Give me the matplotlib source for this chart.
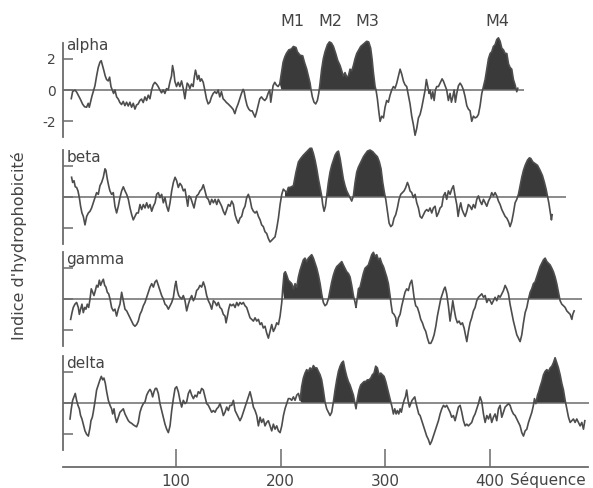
import matplotlib
matplotlib.use("Agg")
import matplotlib.pyplot as plt
import matplotlib.transforms as mtransforms
import numpy as np

# Hydrophobicity profiles of the four receptor subunits, (residue, index) pairs
alpha = [
    (0, -0.55), (1.3, -0.1), (3.5, 0.0), (5.1, -0.13), (6.7, -0.33), (8.9, -0.62), (10.8, -0.9), (12.7, -1.07),
    (14.6, -1.1), (16.2, -0.85), (17.2, -1.1), (18.5, -0.73), (19.7, -0.4), (21, -0.1), (22.6, 0.27), (24.2, 0.9),
    (25.8, 1.45), (27.4, 1.78), (28.6, 1.87), (29.9, 1.55), (31.2, 1.22), (32.4, 0.9), (33.7, 0.67), (35.3, 0.58),
    (36.6, 0.82), (37.9, 0.22), (39.1, 0.0), (40.4, -0.22), (41.7, 0.0), (43.3, -0.44), (44.9, -0.58), (46.4, -0.8),
    (48, -0.93), (49.6, -0.73), (51.2, -1.0), (52.8, -0.78), (54.4, -1.02), (56, -0.78), (57.6, -1.1), (59.2, -0.85),
    (60.8, -1.22), (62.3, -0.96), (63.9, -0.89), (65.5, -0.67), (67.1, -0.58), (68.7, -0.8), (70.3, -0.44),
    (71.9, -0.67), (73.5, -0.33), (75.1, -0.56), (76.7, 0.0), (78.2, 0.33), (79.8, 0.49), (81.4, 0.38), (83, 0.22),
    (84.6, 0.0), (86.2, -0.18), (87.8, 0.0), (89.4, -0.22), (91, 0.09), (92.6, 0.0), (94.1, 0.49), (95.7, 0.89),
    (96.7, 1.56), (98, 1.11), (98.9, 0.56), (100.5, 0.22), (102.1, 0.49), (103.7, 0.22), (105.3, 0.58), (106.9, 0.11),
    (108.5, -0.56), (109.4, -0.11), (110.7, 0.44), (112, 0.33), (113.2, 0.09), (114.8, 0.38), (116.4, 0.22),
    (117.4, 0.78), (118.6, 1.27), (119.6, 1.0), (120.5, 0.67), (121.8, 0.93), (123.1, 0.56), (124.4, 0.71),
    (126, 0.49), (127.5, 0.0), (129.1, -0.56), (130.7, -0.89), (132.3, -0.78), (133.9, -0.44), (135.5, -0.22),
    (137.1, -0.11), (138.7, -0.22), (140.3, 0.0), (141.8, -0.44), (143.4, -0.11), (145, -0.56), (146.6, -0.67),
    (148.2, -0.8), (149.8, -0.89), (151.4, -1.0), (153, -1.11), (154.6, -1.24), (156.2, -1.51), (157.7, -1.16),
    (159.3, -0.89), (160.9, -0.56), (162.5, -0.22), (164.1, 0.04), (165.1, -0.11), (166.3, -0.56), (167.9, -1.0),
    (169.5, -1.22), (171.1, -1.33), (172.7, -1.33), (174.3, -1.56), (175.5, -1.73), (176.8, -1.44), (178.4, -1.0),
    (180, -0.56), (181.6, -0.44), (183.2, -0.58), (184.8, -0.67), (186.4, -0.53), (187.9, -0.22), (189.5, 0.0),
    (190.5, -0.78), (191.4, -0.33), (192.7, 0.27), (194.3, 0.49), (195.9, 0.31), (197.5, 0.22), (199.1, 0.4),
    (200.7, 1.11), (202.3, 1.78), (203.9, 2.11), (205.4, 2.33), (207.7, 2.56), (210.2, 2.62), (212.1, 2.78),
    (214.6, 2.71), (215.9, 2.44), (218.5, 2.22), (221, 2.18), (222.6, 1.78), (224.8, 1.33), (226.4, 0.89),
    (228, 0.44), (229, 0.0), (230.2, -0.44), (231.8, -0.78), (233.4, -0.89), (235, -0.67), (236.3, -0.22),
    (237.6, 0.44), (239.1, 1.33), (240.7, 2.0), (242.3, 2.44), (244.6, 2.89), (246.5, 3.07), (248.4, 3.0),
    (250.3, 2.78), (252.5, 2.33), (254.4, 1.89), (256.7, 1.56), (258.3, 1.22), (259.8, 0.89), (261.4, 1.11),
    (263, 0.84), (264.6, 0.89), (266.2, 1.33), (267.8, 1.22), (269.4, 1.56), (271, 2.0), (272.6, 2.33),
    (274.5, 2.56), (276.4, 2.78), (279, 2.93), (282.1, 3.11), (284, 3.07), (285.9, 2.67), (287.2, 2.0),
    (288.5, 1.11), (290.1, 0.22), (291, 0.0), (292.3, -0.56), (293.6, -1.33), (294.9, -2.0), (296.5, -1.67),
    (298.1, -1.78), (299.6, -1.11), (301.2, -0.67), (302.8, -0.78), (304.4, -0.33), (306, 0.0), (307.6, 0.22),
    (309.2, 0.11), (310.8, 0.44), (312.4, 0.89), (314, 1.33), (315.6, 1.0), (317.2, 0.56), (318.7, 0.33),
    (320.3, 0.22), (321.9, -0.33), (323.5, -0.89), (325.1, -1.67), (326.7, -2.22), (328.3, -2.89), (329.9, -2.44),
    (331.5, -1.78), (333.1, -1.56), (334.7, -1.11), (336.3, -0.56), (337.9, 0.0), (339.1, 0.67), (340.4, 0.22),
    (341.7, -0.22), (342.6, 0.0), (343.9, -0.56), (345.2, -0.11), (346.5, -0.67), (347.7, 0.0), (349, 0.22),
    (350.6, 0.22), (352.2, 0.44), (354.1, 0.71), (355.4, 0.56), (357, 0.27), (358.5, 0.0), (360.1, -0.67),
    (361.7, -0.22), (363, -0.78), (364.3, -0.44), (365.6, 0.0), (366.8, -0.78), (368.1, -0.22), (369.7, 0.27),
    (371.3, 0.44), (372.9, 0.27), (374.5, 0.0), (376.1, -0.44), (377.7, -1.0), (379.2, -1.22), (380.8, -1.33),
    (382.4, -2.0), (384, -1.67), (385.6, -1.78), (387.2, -1.73), (388.8, -1.56), (390.4, -1.0), (392, -0.22),
    (393.6, 0.22), (395.2, 0.67), (396.8, 1.33), (398.4, 2.0), (400, 2.33), (401.5, 2.44), (403.1, 2.78),
    (404.7, 2.89), (406.3, 3.22), (407.9, 3.33), (409.5, 3.11), (411.1, 2.67), (412.7, 2.56), (414.3, 2.33),
    (415.9, 2.33), (417.5, 1.67), (419, 1.44), (420.6, 1.33), (422.2, 0.67), (423.8, 0.33), (425.4, -0.11),
    (426.4, 0.11),
]

beta = [
    (0.3, 1.26), (1.3, 0.93), (2.6, 1.04), (3.8, 0.65), (5.1, 0.61), (6.4, 0.39), (7.7, -0.04), (8.9, -0.59),
    (10.2, -1.02), (11.5, -1.24), (13.1, -1.78), (14.7, -1.24), (16.3, -1.02), (17.9, -0.91), (19.4, -0.7),
    (21, -0.37), (22.6, -0.04), (24.2, 0.28), (25.8, 0.17), (27.4, 0.72), (29, 0.93), (30.6, 1.26), (32.2, 1.8),
    (33.1, 1.7), (34.4, 1.15), (35.7, 0.72), (36.9, 0.39), (38.5, 0.17), (40.1, 0.28), (41.7, -0.59), (43.3, -1.02),
    (44.9, -0.59), (46.5, -0.04), (48.1, 0.39), (49.7, 0.65), (51.3, 0.39), (52.9, 0.17), (54.5, -0.15),
    (56.1, -0.7), (57.7, -1.13), (59.2, -1.46), (60.8, -1.24), (62.4, -1.02), (64, -1.02), (65.6, -0.48),
    (67.2, -0.8), (68.8, -0.48), (70.4, -0.7), (72, -0.37), (73.6, -0.7), (75.2, -0.48), (76.8, -0.91),
    (78.4, -0.59), (80, -0.37), (81.5, 0.17), (83.1, 0.28), (84.7, -0.04), (86.3, 0.17), (87.9, -0.37),
    (89.5, -0.04), (91.1, -0.59), (92.7, -0.91), (94.3, -0.37), (95.9, 0.39), (97.5, 0.93), (99.1, 1.26),
    (100.6, 1.04), (102.2, 0.61), (103.8, 0.87), (105.4, 0.72), (107, 0.39), (108.6, 0.5), (110.2, -0.15),
    (111.2, -0.59), (112.4, 0.07), (114, -0.04), (115.6, -0.37), (117.2, -0.7), (118.5, -0.26), (119.7, 0.07),
    (121.3, 0.17), (122.9, 0.39), (124.5, 0.5), (126.1, 0.78), (127.7, 0.39), (129.3, -0.04), (130.9, -0.15),
    (132.5, -0.48), (134.1, -0.15), (135.7, -0.37), (137.3, -0.15), (138.9, -0.48), (140.4, -0.15), (142, -0.37),
    (143.6, -0.59), (145.2, -0.91), (146.8, -1.13), (148.4, -0.8), (150, -0.48), (151.6, -0.59), (153.2, -0.26),
    (154.8, -0.48), (156.4, -1.13), (158, -1.46), (159.5, -1.67), (161.1, -1.35), (162.7, -1.24), (164.3, -0.8),
    (165.9, -0.59), (167.5, -0.04), (169.1, 0.17), (170.7, -0.15), (172.3, -0.7), (173.9, -0.91), (175.5, -1.02),
    (177.1, -0.91), (178.7, -1.24), (180.3, -1.46), (181.8, -1.78), (183.4, -1.89), (185, -2.22), (186.6, -2.33),
    (188.2, -2.65), (189.8, -2.87), (191.4, -2.76), (193, -2.65), (194.6, -2.54), (196.2, -2.0), (197.8, -1.35),
    (199.4, -0.48), (201, 0.17), (202.5, 0.5), (204.1, 0.39), (205.7, 0.28), (207.3, 0.61), (208.9, 0.61),
    (212.1, 0.72), (214.6, 1.59), (216.9, 2.24), (219.1, 2.46), (221.6, 2.67), (223.2, 2.78), (224.8, 2.89),
    (226.4, 3.0), (228, 3.11), (229.6, 3.11), (231.2, 2.78), (232.8, 2.35), (234.4, 1.8), (236, 1.15),
    (237.6, 0.61), (239.1, 0.07), (240.1, -0.48), (241.4, -0.91), (242.7, -0.59), (243.9, 0.07), (245.5, 0.93),
    (247.1, 1.59), (248.7, 2.02), (250.3, 2.35), (251.9, 2.67), (253.5, 2.85), (255.1, 2.93), (256.7, 2.46),
    (258.3, 1.8), (259.8, 1.15), (261.4, 0.72), (263, 0.39), (264.6, 0.17), (266.2, -0.04), (267.8, -0.26),
    (269.4, 0.07), (271, 0.93), (272.6, 1.59), (274.2, 1.91), (275.8, 2.13), (277.4, 2.35), (279, 2.57),
    (280.5, 2.72), (282.8, 2.93), (285.3, 3.0), (287.9, 2.89), (290.1, 2.72), (292.3, 2.57), (294.2, 2.24),
    (295.8, 1.8), (297.4, 0.93), (299, 0.28), (300.3, -0.15), (301.9, -0.91), (303.5, -1.67), (305.1, -1.89),
    (306.7, -1.78), (308.2, -1.35), (309.8, -1.13), (311.4, -0.7), (313, -0.15), (314.6, 0.17), (316.2, 0.28),
    (317.8, 0.39), (319.4, 0.61), (321, 0.93), (322.2, 0.72), (323.5, 0.39), (325.1, 0.28), (326.7, -0.04),
    (328.3, 0.17), (329.9, -0.37), (331.5, -0.7), (333.1, -1.24), (334.7, -1.35), (336.3, -1.13), (337.9, -0.91),
    (339.4, -0.8), (341, -0.91), (342.6, -0.7), (344.2, -1.02), (345.8, -0.7), (347.4, -0.59), (349, -1.24),
    (350.6, -1.02), (352.2, -0.7), (353.8, -0.59), (355.4, 0.07), (357, 0.28), (358.5, -0.15), (360.1, 0.39),
    (361.7, 0.17), (363.3, 0.5), (364.9, 0.72), (366.5, 0.07), (368.1, -0.48), (369.4, -1.24), (370.7, -0.7),
    (371.9, -0.37), (373.2, -0.8), (374.5, -1.02), (376.1, -1.24), (377.7, -0.91), (379.2, -0.48), (380.8, -0.59),
    (382.4, -0.8), (384, -0.48), (385.6, -0.7), (387.2, -0.15), (388.8, 0.07), (390.4, -0.26), (392, -0.48),
    (393.6, -0.15), (395.2, -0.37), (396.8, -0.59), (398.4, -0.26), (400, -0.04), (401.5, 0.28), (403.1, 0.07),
    (404.7, 0.28), (406.3, 0.07), (407.9, -0.26), (409.5, -0.48), (411.1, -0.8), (412.7, -1.02), (414.3, -1.24),
    (415.9, -1.35), (417.5, -1.57), (419, -1.89), (420.6, -1.57), (422.2, -1.02), (423.8, -0.37), (425.4, -0.15),
    (427, 0.17), (428.6, 0.72), (430.2, 1.26), (431.8, 1.7), (433.4, 2.02), (435.6, 2.35), (437.5, 2.5),
    (438.8, 2.46), (440.7, 2.24), (442.9, 2.13), (445.2, 2.02), (447.7, 1.7), (449.9, 1.37), (451.8, 0.93),
    (453.4, 0.5), (454.7, 0.07), (456, -0.37), (457.2, -0.91), (458.5, -1.46), (459.2, -1.13),
]

gamma = [
    (-0.6, -1.3), (0.7, -0.87), (1.9, -0.54), (3.5, -0.33), (5.1, -0.22), (6.7, -0.54), (7.7, -0.98), (8.9, -0.65),
    (10.2, -0.33), (11.5, -0.87), (12.8, -0.54), (14, -0.65), (15.3, -0.33), (16.6, -0.54), (17.9, 0.0),
    (19.1, 0.65), (20.4, 0.43), (21.7, 0.22), (23, 0.54), (24.2, 0.87), (25.5, 0.76), (26.8, 1.2), (28, 0.87),
    (29.3, 1.09), (30.6, 1.26), (31.9, 0.87), (33.1, 0.76), (34.4, 0.43), (35.7, 0.33), (37, 0.0), (38.5, -0.54),
    (40.1, -0.76), (41.7, -0.65), (43.3, -1.09), (44.9, -0.65), (46.5, -0.33), (48.1, 0.43), (49.7, -0.11),
    (51.3, -0.65), (52.9, -0.76), (54.5, -0.98), (56.1, -1.2), (57.7, -1.41), (59.2, -1.63), (60.8, -1.74),
    (62.4, -1.63), (64, -1.41), (65.6, -0.98), (67.2, -0.76), (68.8, -0.43), (70.4, -0.22), (72, 0.11),
    (73.6, 0.43), (75.2, 0.76), (76.8, 0.98), (78.4, 0.76), (80, 1.09), (81.5, 1.2), (83.1, 0.87), (84.7, 0.54),
    (86.3, 0.22), (87.9, 0.0), (89.5, -0.33), (91.1, -0.43), (92.7, -0.65), (94.3, -0.43), (95.9, -0.22),
    (97.5, 0.11), (99.1, 0.87), (100, 1.13), (101.3, 0.54), (102.6, 0.22), (103.8, 0.11), (105.4, 0.0),
    (107, 0.22), (108.6, -0.11), (110.2, -0.76), (111.8, -0.33), (113.4, 0.0), (115, 0.22), (116.6, -0.11),
    (118.2, 0.11), (119.7, 0.54), (121.3, 0.65), (122.9, 0.87), (124.5, 0.76), (126.1, 1.09), (127.7, 0.76),
    (129.3, 0.22), (130.9, -0.11), (132.5, -0.33), (134.1, -0.65), (135.7, -0.11), (137.3, -0.22), (138.9, -0.43),
    (140.4, -0.22), (142, -0.54), (143.6, -0.65), (145.2, -0.98), (146.8, -1.09), (147.8, -1.52), (149.1, -1.09),
    (150.3, -0.65), (151.6, -0.33), (153.2, -0.43), (154.8, -0.33), (156.4, -0.54), (158, -0.22), (159.5, -0.43),
    (161.1, -0.22), (162.7, -0.33), (164.3, -0.22), (165.9, -0.43), (167.5, -0.54), (169.1, -0.87), (170.7, -1.2),
    (172.3, -1.3), (173.9, -1.41), (175.5, -1.2), (177.1, -1.41), (178.7, -1.3), (180.3, -1.63), (181.8, -1.52),
    (183.4, -1.85), (185, -1.74), (186.6, -2.17), (188.2, -2.5), (189.8, -2.07), (191.4, -1.63), (193, -2.07),
    (194.6, -1.85), (196.2, -1.52), (197.8, -1.63), (199.4, -1.09), (201, -0.22), (201.9, 0.65), (203.2, 1.63),
    (204.4, 1.74), (205.7, 1.52), (207.3, 1.2), (208.9, 1.09), (210.5, 0.98), (212.1, 0.65), (213.7, 0.98),
    (215.3, 0.76), (216.9, 1.41), (218.5, 1.85), (220, 2.17), (221.6, 2.5), (223.2, 2.61), (224.8, 2.39),
    (226.4, 2.61), (228, 2.72), (229.6, 2.83), (231.2, 2.61), (232.8, 2.28), (234.4, 1.96), (236, 1.52),
    (237.6, 0.98), (239.1, 0.33), (240.7, -0.22), (242.3, -0.43), (243.9, -0.33), (245.5, 0.0), (247.1, 0.54),
    (248.7, 1.09), (250.3, 1.52), (251.9, 1.85), (253.5, 2.07), (255.1, 2.17), (256.7, 2.28), (258.3, 2.39),
    (259.8, 2.17), (261.4, 1.96), (263, 1.74), (264.6, 1.63), (266.2, 1.41), (267.8, 0.87), (269.4, 0.22),
    (271, -0.22), (271.9, -0.54), (273.2, 0.11), (274.2, 0.65), (275.8, 0.76), (277.4, 1.2), (278.9, 1.63),
    (280.5, 1.96), (282.1, 2.07), (283.7, 2.17), (285.3, 2.5), (286.9, 2.83), (288.5, 2.98), (290.1, 2.72),
    (291.7, 2.83), (293.3, 2.5), (294.9, 2.61), (296.5, 2.28), (298.1, 2.07), (299.6, 1.74), (301.2, 1.41),
    (302.8, 0.98), (304.4, 0.22), (305.4, -0.33), (306.6, -0.87), (308.2, -0.98), (309.8, -1.2), (310.8, -1.74),
    (312.4, -1.2), (314, -0.98), (315.6, -0.43), (317.2, 0.0), (318.7, 0.43), (320.3, 0.65), (321.9, 0.54),
    (323.5, 0.98), (325.1, 1.2), (326.1, 0.76), (327.3, 0.11), (328.9, -0.43), (330.5, -0.54), (332.1, -0.87),
    (333.7, -1.3), (335.3, -1.52), (336.9, -1.85), (338.5, -2.07), (340.1, -2.5), (341.7, -2.83), (343.3, -2.83),
    (344.9, -2.61), (346.5, -2.28), (348.1, -1.74), (349.6, -1.09), (351.2, -0.54), (352.8, 0.0), (354.4, 0.33),
    (356, 0.65), (357, 0.76), (358.5, 0.33), (360.1, -0.43), (361.7, -1.41), (363.3, -0.65), (364.3, -0.11),
    (365.6, -0.65), (367.1, -1.2), (368.7, -1.52), (370.3, -1.41), (371.9, -1.63), (373.5, -1.52), (375.1, -1.85),
    (376.7, -2.39), (377.7, -2.72), (379.2, -2.07), (380.8, -1.52), (382.4, -1.2), (384, -0.76), (385.6, -0.54),
    (387.2, -0.11), (388.8, 0.11), (390.4, 0.22), (392, 0.33), (393.6, 0.11), (395.2, 0.22), (396.8, -0.22),
    (398.4, 0.0), (400, -0.11), (401.5, -0.33), (403.1, -0.11), (404.7, 0.11), (406.3, -0.11), (407.9, 0.22),
    (409.5, 0.11), (411.1, 0.33), (412.7, 0.54), (414.3, 0.87), (415.9, 0.65), (417.5, 0.33), (419, -0.33),
    (420.6, -0.87), (422.2, -1.41), (423.8, -1.85), (425.4, -2.28), (427, -2.5), (428.6, -2.72), (430.2, -2.28),
    (431.8, -1.52), (433.4, -0.87), (435, -0.54), (436.6, 0.0), (438.2, 0.43), (439.7, 0.65), (441.3, 0.98),
    (442.9, 1.09), (444.5, 1.41), (446.1, 1.74), (447.7, 2.07), (449.3, 2.28), (450.9, 2.5), (452.5, 2.61),
    (454.1, 2.39), (455.7, 2.28), (457.3, 2.17), (458.9, 1.96), (460.4, 1.74), (462, 1.41), (463.6, 0.98),
    (465.2, 0.43), (466.8, -0.11), (468.4, -0.33), (470, -0.43), (471.6, -0.54), (473.2, -0.76), (474.8, -0.87),
    (476.4, -0.98), (478, -1.3), (478.9, -0.98), (480.2, -0.76),
]

delta = [
    (-1.2, -1.02), (0, -0.37), (1.3, 0.17), (2.6, 0.39), (3.8, 0.61), (5.1, 0.17), (6.4, -0.15), (7.7, -0.37),
    (8.9, -0.8), (10.2, -1.02), (11.5, -1.35), (13.1, -1.78), (14.7, -2.0), (16.3, -2.11), (17.9, -1.57),
    (18.8, -1.13), (20.1, -0.91), (21, -0.59), (22.6, 0.07), (24.2, 0.83), (25.8, 1.15), (27.4, 1.48), (28.7, 1.7),
    (30, 1.48), (31.2, 1.59), (32.5, 1.26), (33.8, 0.72), (35.4, 0.17), (37, -0.15), (38.5, -0.37), (39.5, -0.7),
    (40.8, -0.37), (42, -0.91), (43.3, -1.24), (44.9, -0.91), (46.5, -0.59), (48.1, -0.48), (49.7, -0.37),
    (51.3, -0.7), (52.9, -0.91), (54.5, -1.13), (56.1, -1.24), (57.7, -1.3), (59.2, -1.39), (60.8, -1.46),
    (62.4, -1.52), (64, -1.24), (65.6, -0.59), (67.2, -0.26), (68.8, -0.04), (70.4, 0.07), (72, 0.5), (73.6, 0.72),
    (75.2, 0.87), (76.4, 0.72), (77.7, 0.39), (79, 0.72), (80.3, 0.93), (81.5, 0.93), (83.1, 0.61), (84.7, -0.04),
    (86.3, -0.48), (87.9, -0.91), (89.5, -1.35), (91.1, -1.67), (92.7, -1.89), (94.3, -1.46), (95.9, -0.48),
    (97.5, 0.28), (99.1, 0.93), (100.6, 1.04), (102.2, 0.72), (103.8, 0.17), (105.4, -0.26), (107, 0.17),
    (108.6, -0.04), (110.2, 0.07), (111.8, 0.61), (113.4, 0.83), (115, 0.5), (116.6, 0.28), (118.2, 0.5),
    (119.8, 0.39), (121.3, 0.72), (122.9, 0.61), (124.5, 0.93), (126.1, 0.83), (127.7, 0.39), (129.3, -0.04),
    (130.9, -0.15), (132.5, -0.37), (134.1, -0.59), (135.7, -0.48), (137.3, -0.59), (138.9, -0.37), (140.5, -0.26),
    (142, -0.04), (143.6, -0.37), (145.2, -0.8), (146.8, -0.59), (148.4, -0.26), (150, -0.48), (151.6, -0.15),
    (153.2, -0.15), (154.8, 0.17), (156.4, -0.48), (158, -0.7), (159.5, -0.91), (161.1, -1.13), (162.7, -0.91),
    (164.3, -0.59), (165.9, -0.26), (167.5, 0.07), (169.1, 0.39), (170.7, 0.72), (172.3, 0.28), (173.9, -0.26),
    (175.5, -0.48), (177.1, -0.8), (178.7, -1.46), (180.3, -0.91), (181.8, -1.24), (183.4, -1.02), (185, -1.46),
    (186.6, -1.24), (188.2, -1.13), (189.8, -1.46), (191.4, -1.78), (193, -1.35), (194.6, -1.67), (196.2, -1.46),
    (197.8, -1.78), (199.4, -1.89), (201, -1.46), (202.6, -0.8), (204.1, -0.37), (205.7, -0.04), (207.3, 0.28),
    (208.9, 0.28), (210.5, 0.17), (212.1, 0.39), (213.7, 0.17), (215.3, 0.5), (216.9, 0.61), (218.5, 0.17),
    (220, 1.04), (221.6, 1.59), (223.2, 1.91), (224.8, 2.13), (226.4, 2.02), (228, 2.24), (229.6, 2.13),
    (231.2, 2.39), (232.8, 2.24), (234.4, 2.24), (236, 2.02), (237.6, 1.8), (239.1, 1.48), (240.7, 0.83),
    (242.3, 0.07), (243.9, -0.37), (245.5, -0.59), (247.1, -0.8), (248.7, -0.59), (250.3, 0.07), (251.9, 0.83),
    (253.5, 1.48), (255.1, 2.02), (256.7, 2.35), (258.3, 2.57), (259.8, 2.67), (261.4, 2.13), (263, 1.7),
    (264.6, 1.37), (266.2, 1.15), (267.8, 0.83), (269.4, 0.5), (271, -0.04), (271.9, -0.37), (273.2, 0.28),
    (274.8, 0.83), (276.4, 1.15), (278, 1.26), (279.6, 1.37), (281.2, 1.37), (282.8, 1.48), (284.4, 1.48),
    (286, 1.59), (287.5, 1.8), (289.1, 1.91), (290.7, 2.35), (292.3, 2.24), (293.9, 1.8), (295.5, 1.91),
    (297.1, 1.8), (298.7, 1.7), (300.3, 1.37), (301.9, 0.93), (303.5, 0.5), (305.1, 0.07), (306.3, -0.26),
    (307.6, -0.7), (308.9, -0.37), (310.2, -0.7), (311.4, -0.48), (312.7, -0.7), (314, -0.37), (315.2, -0.59),
    (316.5, -0.15), (317.8, 0.17), (319.1, 0.39), (320.3, 0.83), (321.6, 0.17), (322.9, -0.26), (324.2, -0.04),
    (325.4, 0.17), (326.7, 0.28), (328, 0.39), (329.3, -0.04), (330.5, -0.37), (331.8, -0.7), (333.1, -0.8),
    (334.7, -1.13), (336.3, -1.46), (337.9, -1.78), (339.4, -2.11), (341, -2.33), (342.6, -2.65), (344.2, -2.43),
    (345.8, -2.11), (347.4, -1.78), (349, -1.46), (350.6, -1.13), (352.2, -0.7), (353.8, -0.37), (355.4, -0.15),
    (357, -0.26), (358.5, -0.15), (360.1, -0.37), (361.7, -0.59), (363.3, -0.91), (364.9, -0.8), (366.5, -1.13),
    (368.1, -0.7), (369.7, -0.26), (371.3, -0.15), (372.9, -0.59), (374.5, -1.13), (376.1, -1.46), (377.7, -1.35),
    (379.2, -1.46), (380.8, -1.35), (382.4, -1.24), (384, -0.91), (385.6, -0.7), (387.2, -0.37), (388.8, -0.04),
    (390.4, 0.39), (392, 0.07), (393.6, -0.7), (395.2, -1.24), (396.8, -0.8), (398.4, -1.02), (400, -0.7),
    (401.5, -1.24), (403.1, -0.91), (404.7, -0.7), (406.3, -1.13), (407.9, -0.37), (409.5, -0.15), (411.1, -0.91),
    (412.7, -0.59), (414.3, -0.26), (415.9, -0.15), (417.5, -0.04), (419, -0.15), (420.6, -0.48), (422.2, -0.7),
    (423.8, -0.8), (425.4, -1.02), (427, -1.24), (428.6, -1.46), (430.2, -1.89), (431.8, -2.11), (433.4, -1.78),
    (435, -1.67), (436.6, -1.24), (438.2, -0.91), (439.8, -0.59), (441.3, -0.15), (442.3, 0.28), (443.6, -0.04),
    (445.2, 0.5), (446.4, 0.72), (447.7, 1.04), (449.3, 1.37), (450.9, 1.8), (452.5, 2.02), (454.1, 2.13),
    (455.7, 2.02), (457.3, 2.24), (458.9, 2.35), (460.4, 2.57), (462, 2.89), (463.6, 2.57), (465.2, 2.24),
    (466.8, 1.8), (468.4, 1.26), (470, 0.83), (471.6, 0.17), (473.2, -0.37), (474.8, -0.91), (476.4, -1.24),
    (478, -1.13), (479.5, -1.02), (481.1, -1.24), (482.7, -1.02), (484.3, -1.24), (485.9, -1.46), (487.5, -1.24),
    (489.1, -1.67), (490.4, -1.13),
]

names = ["alpha", "beta", "gamma", "delta"]
profiles = [alpha, beta, gamma, delta]
# end of the zero reference line for each subunit
zero_ends = [432, 472, 488, 494]
# shaded transmembrane stretches (M1-M3 block, M4)
tm_spans = [
    [(200, 291), (392, 427)],
    [(204, 300), (427, 455)],
    [(202, 305), (436, 467)],
    [(219, 306), (444, 472)],
]
seg_labels = ["M1", "M2", "M3", "M4"]
seg_pos = [211, 247, 283, 407]
seq_ticks = [100, 200, 300, 400]

# style
LINE = "#4d4d4d"
FILL = "#3a3a3a"
AXC = "#6b6b6b"
TXT = "#444444"

W, H = 593, 488
LEFT = 63
XLIM = (-7.9, 498.2)
zero_px = [90, 197, 299, 403]
HALF = 47

fig = plt.figure(figsize=(W / 100, H / 100), dpi=100)
fig.patch.set_facecolor("white")

axes = []
for i, (name, prof) in enumerate(zip(names, profiles)):
    top = zero_px[i] - HALF
    ax = fig.add_axes([LEFT / W, 1 - (top + 2 * HALF) / H, (W - LEFT) / W, 2 * HALF / H])
    res = np.array([p[0] for p in prof])
    val = np.array([p[1] for p in prof])

    mask = np.zeros(len(res), dtype=bool)
    for a, b in tm_spans[i]:
        mask |= (res >= a) & (res <= b)
    ax.fill_between(res, val, 0, where=mask & (val >= 0), interpolate=True,
                    color=FILL, linewidth=0, clip_on=False)
    ax.hlines(0, XLIM[0], zero_ends[i], color=AXC, linewidth=1.1)
    ax.plot(res, val, color=LINE, linewidth=1.2, clip_on=False)

    ax.set_xlim(*XLIM)
    ax.set_ylim(-3, 3)
    ax.set_facecolor("none")
    for s in ["top", "right", "bottom"]:
        ax.spines[s].set_visible(False)
    ax.spines["left"].set_color(AXC)
    ax.spines["left"].set_linewidth(1.3)
    ax.set_xticks([])
    ax.set_yticks([-2, 0, 2])
    ax.tick_params(axis="y", direction="in", length=7, width=1.1, color=AXC,
                   labelsize=10, labelcolor=TXT, pad=5)
    if i == 0:
        ax.set_yticklabels(["-2", "0", "2"])
    else:
        ax.set_yticklabels([])
    ax.text(0.006, 1.05 if i == 0 else 1.0, name, transform=ax.transAxes,
            ha="left", va="top", fontsize=11, color=TXT)
    axes.append(ax)

# segment labels above the top panel
tr = mtransforms.blended_transform_factory(axes[0].transData, fig.transFigure)
for lab, pos in zip(seg_labels, seg_pos):
    axes[0].text(pos, 1 - 21 / H, lab, transform=tr, ha="center", va="center",
                 fontsize=11.5, color=TXT, clip_on=False)

# sequence axis at the bottom
axb = fig.add_axes([LEFT / W, 1 - 467 / H, (W - LEFT) / W, 20 / H])
axb.set_xlim(*XLIM)
axb.set_facecolor("none")
for s in ["top", "right", "left"]:
    axb.spines[s].set_visible(False)
axb.spines["bottom"].set_color(AXC)
axb.spines["bottom"].set_linewidth(1.3)
axb.spines["bottom"].set_bounds(XLIM[0], 493)
axb.set_yticks([])
axb.set_xticks(seq_ticks)
axb.set_xticklabels([str(t) for t in seq_ticks])
axb.tick_params(axis="x", direction="in", length=13, width=1.1, color=AXC,
                labelsize=11, labelcolor=TXT, pad=5)
trb = mtransforms.blended_transform_factory(axb.transData, axb.transAxes)
axb.text(419, -0.27, "Séquence", transform=trb, ha="left", va="top",
         fontsize=11, color=TXT, clip_on=False)

fig.text(19 / W, 1 - 246 / H, "Indice d'hydrophobicité", rotation=90,
         ha="center", va="center", fontsize=11.5, color=TXT)

fig.savefig("out.png", dpi=100, facecolor="white")
